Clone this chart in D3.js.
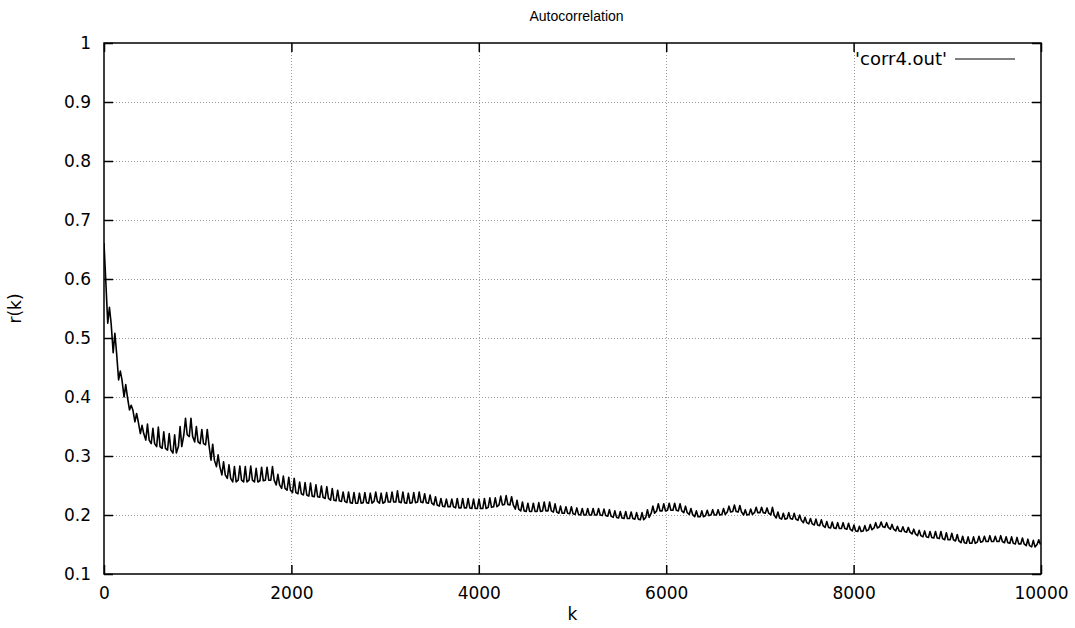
<!DOCTYPE html>
<html>
<head>
<meta charset="utf-8">
<script src="https://cdn.jsdelivr.net/npm/d3@7"></script>
<style>
  body { margin: 0; background: #fff; }
  svg { display: block; }
</style>
</head>
<body>
<svg id="chart" width="1075" height="628"></svg>
<script>
// lag spacing between the periodic spikes of the curve
const kStep = 58;

// r(k) at the top of each spike, one value per kStep
const highR = [
  0.660, 0.552, 0.508, 0.444, 0.421, 0.386, 0.372, 0.352, 0.354, 0.347,
  0.349, 0.341, 0.338, 0.336, 0.350, 0.364, 0.364, 0.350, 0.345, 0.345,
  0.320, 0.302, 0.290, 0.285, 0.282, 0.283, 0.282, 0.283, 0.279, 0.281,
  0.281, 0.282, 0.269, 0.266, 0.264, 0.262, 0.256, 0.255, 0.254, 0.251,
  0.249, 0.248, 0.245, 0.242, 0.239, 0.239, 0.238, 0.237, 0.238, 0.237,
  0.239, 0.237, 0.238, 0.239, 0.241, 0.239, 0.237, 0.238, 0.239, 0.236,
  0.234, 0.231, 0.228, 0.227, 0.227, 0.228, 0.228, 0.228, 0.227, 0.227,
  0.228, 0.229, 0.229, 0.232, 0.233, 0.231, 0.225, 0.222, 0.220, 0.220,
  0.221, 0.222, 0.222, 0.219, 0.215, 0.214, 0.214, 0.212, 0.211, 0.211,
  0.211, 0.211, 0.210, 0.209, 0.207, 0.206, 0.206, 0.205, 0.204, 0.204,
  0.209, 0.215, 0.219, 0.219, 0.220, 0.220, 0.219, 0.215, 0.211, 0.207,
  0.207, 0.208, 0.209, 0.209, 0.211, 0.215, 0.217, 0.216, 0.209, 0.210,
  0.213, 0.213, 0.212, 0.213, 0.205, 0.203, 0.204, 0.203, 0.200, 0.196,
  0.194, 0.193, 0.192, 0.189, 0.188, 0.187, 0.187, 0.186, 0.183, 0.181,
  0.182, 0.184, 0.187, 0.188, 0.187, 0.184, 0.181, 0.180, 0.179, 0.176,
  0.174, 0.173, 0.172, 0.172, 0.172, 0.170, 0.169, 0.167, 0.164, 0.163,
  0.163, 0.164, 0.164, 0.165, 0.164, 0.165, 0.163, 0.163, 0.162, 0.161,
  0.159, 0.157, 0.158
];

// r(k) at the base between spikes
const lowR = [
  0.600, 0.525, 0.475, 0.429, 0.400, 0.378, 0.358, 0.338, 0.327, 0.321,
  0.316, 0.313, 0.310, 0.305, 0.316, 0.336, 0.333, 0.324, 0.321, 0.319,
  0.293, 0.282, 0.268, 0.262, 0.256, 0.259, 0.256, 0.259, 0.256, 0.258,
  0.259, 0.259, 0.251, 0.245, 0.242, 0.238, 0.236, 0.234, 0.232, 0.231,
  0.230, 0.228, 0.225, 0.224, 0.223, 0.221, 0.220, 0.220, 0.221, 0.220,
  0.223, 0.220, 0.222, 0.222, 0.222, 0.221, 0.220, 0.221, 0.222, 0.221,
  0.220, 0.217, 0.215, 0.214, 0.214, 0.212, 0.212, 0.212, 0.211, 0.211,
  0.211, 0.213, 0.214, 0.217, 0.218, 0.217, 0.210, 0.207, 0.206, 0.206,
  0.206, 0.207, 0.207, 0.205, 0.203, 0.203, 0.202, 0.201, 0.200, 0.200,
  0.200, 0.200, 0.199, 0.198, 0.196, 0.195, 0.194, 0.194, 0.193, 0.192,
  0.196, 0.203, 0.207, 0.207, 0.208, 0.208, 0.207, 0.204, 0.201, 0.197,
  0.197, 0.199, 0.200, 0.200, 0.201, 0.205, 0.206, 0.205, 0.200, 0.201,
  0.204, 0.204, 0.203, 0.200, 0.195, 0.193, 0.194, 0.193, 0.191, 0.187,
  0.185, 0.183, 0.182, 0.179, 0.178, 0.177, 0.177, 0.176, 0.173, 0.172,
  0.173, 0.175, 0.178, 0.180, 0.179, 0.176, 0.173, 0.172, 0.171, 0.168,
  0.165, 0.163, 0.162, 0.161, 0.160, 0.158, 0.158, 0.156, 0.153, 0.152,
  0.152, 0.154, 0.155, 0.155, 0.155, 0.155, 0.153, 0.152, 0.151, 0.151,
  0.148, 0.146, 0.150
];

const xTicks = [0, 2000, 4000, 6000, 8000, 10000];
const yTicks = [0.1, 0.2, 0.3, 0.4, 0.5, 0.6, 0.7, 0.8, 0.9, 1];

const seriesName = "'corr4.out'";
const title = "Autocorrelation";

const margin = {top: 43, right: 34, bottom: 54, left: 104};
const W = 1075, H = 628;
const width = W - margin.left - margin.right;
const height = H - margin.top - margin.bottom;
const font = "'DejaVu Sans', sans-serif";

const svg = d3.select("#chart");
const g = svg.append("g").attr("transform", `translate(${margin.left},${margin.top})`);

const x = d3.scaleLinear().domain([0, 10000]).range([0, width]);
const y = d3.scaleLinear().domain([0.1, 1]).range([height, 0]);

// dotted grid
g.append("g").selectAll("line")
  .data(yTicks.slice(1, -1))
  .join("line")
    .attr("x1", 0).attr("x2", width)
    .attr("y1", d => Math.round(y(d)) + 0.5).attr("y2", d => Math.round(y(d)) + 0.5)
    .attr("stroke", "#999").attr("stroke-dasharray", "1,2");
g.append("g").selectAll("line")
  .data(xTicks.slice(1, -1))
  .join("line")
    .attr("y1", 0).attr("y2", height)
    .attr("x1", d => Math.round(x(d)) + 0.5).attr("x2", d => Math.round(x(d)) + 0.5)
    .attr("stroke", "#999").attr("stroke-dasharray", "1,2");

// build the line: base -> spike -> base for every lag step
const pts = [];
const w = 18;
highR.forEach((h, i) => {
  const k = i * kStep;
  pts.push([k - w, lowR[i]]);
  pts.push([k, h]);
  pts.push([k + w, lowR[i]]);
});

g.append("clipPath").attr("id", "clip")
  .append("rect").attr("width", width).attr("height", height);

const line = d3.line().x(d => x(d[0])).y(d => y(d[1]));
g.append("path")
  .datum(pts)
  .attr("clip-path", "url(#clip)")
  .attr("fill", "none")
  .attr("stroke", "#000")
  .attr("stroke-width", 1.6)
  .attr("stroke-linejoin", "round")
  .attr("d", line);

// axes with inward ticks, mirrored on top/right
function styleAxis(sel) {
  sel.select(".domain").remove();
  sel.selectAll(".tick line").attr("stroke", "#000").attr("stroke-width", 1.5);
  sel.attr("font-family", font).attr("font-size", 17);
  sel.selectAll("text").attr("fill", "#000");
}

g.append("g")
  .attr("transform", `translate(0,${height})`)
  .call(d3.axisBottom(x).tickValues(xTicks).tickSizeInner(-9).tickSizeOuter(0).tickPadding(13).tickFormat(d3.format("d")))
  .call(styleAxis);
g.append("g")
  .call(d3.axisTop(x).tickValues(xTicks).tickSizeInner(-9).tickSizeOuter(0).tickFormat(""))
  .call(styleAxis);
g.append("g")
  .call(d3.axisLeft(y).tickValues(yTicks).tickSizeInner(-9).tickSizeOuter(0).tickPadding(13).tickFormat(d3.format("")))
  .call(styleAxis);
g.append("g")
  .attr("transform", `translate(${width},0)`)
  .call(d3.axisRight(y).tickValues(yTicks).tickSizeInner(-9).tickSizeOuter(0).tickFormat(""))
  .call(styleAxis);

// border
g.append("rect")
  .attr("width", width).attr("height", height)
  .attr("fill", "none").attr("stroke", "#000").attr("stroke-width", 1.5);

// legend
const legend = g.append("g").attr("transform", `translate(${width - 94},16)`);
legend.append("text")
  .attr("x", 0).attr("y", 0).attr("dy", "0.35em")
  .attr("text-anchor", "end")
  .attr("font-family", font).attr("font-size", 18)
  .text(seriesName);
legend.append("line")
  .attr("x1", 8).attr("x2", 68).attr("y1", 0).attr("y2", 0)
  .attr("stroke", "#000").attr("stroke-width", 1);

// title and axis labels
svg.append("text")
  .attr("x", margin.left + width / 2 + 4).attr("y", 16).attr("dy", "0.35em")
  .attr("text-anchor", "middle")
  .attr("font-family", "'Liberation Sans', Arial, sans-serif").attr("font-size", 14)
  .text(title);
svg.append("text")
  .attr("x", margin.left + width / 2).attr("y", 614).attr("dy", "0.35em")
  .attr("text-anchor", "middle")
  .attr("font-family", font).attr("font-size", 17)
  .text("k");
svg.append("text")
  .attr("transform", `translate(15,${margin.top + height / 2}) rotate(-90)`)
  .attr("dy", "0.35em")
  .attr("text-anchor", "middle")
  .attr("font-family", font).attr("font-size", 17)
  .text("r(k)");
</script>
</body>
</html>
